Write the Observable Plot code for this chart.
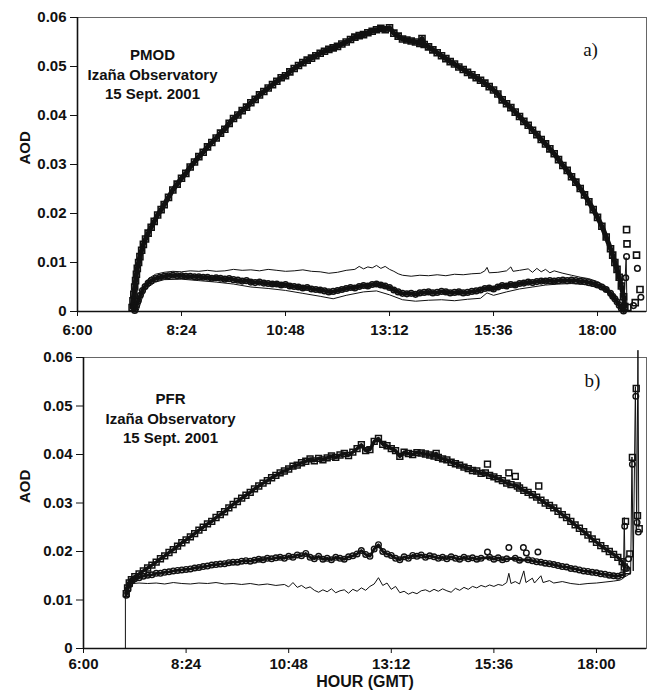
<!DOCTYPE html>
<html>
<head>
<meta charset="utf-8">
<script src="https://cdn.jsdelivr.net/npm/d3@7"></script>
<script src="https://cdn.jsdelivr.net/npm/@observablehq/plot@0.6"></script>
<style>
  body { margin: 0; background: #fff; }
  #chart svg { display: block; }
</style>
</head>
<body>
<div id="chart"></div>
<script>
// ---------- axis ticks ----------
const xTicks = [6, 8.4, 10.8, 13.2, 15.6, 18];
const xTickLabels = ["6:00", "8:24", "10:48", "13:12", "15:36", "18:00"];
const yTicks = [0, 0.01, 0.02, 0.03, 0.04, 0.05, 0.06];
const yTickLabels = ["0", "0.01", "0.02", "0.03", "0.04", "0.05", "0.06"];

// ---------- panel a) PMOD : [hour (GMT), AOD] ----------
const pmodSquares = [
  [7.26,0.0008],[7.28,0.0022],[7.30,0.0035],[7.32,0.0050],[7.34,0.0063],[7.36,0.0076],[7.38,0.0088],
  [7.41,0.0100],[7.44,0.0112],[7.48,0.0125],[7.52,0.0137],[7.57,0.0148],[7.63,0.0160],[7.70,0.0172],
  [7.77,0.0184],[7.85,0.0197],[7.93,0.0208],[8.0,0.0218],[8.1,0.0233],[8.2,0.0248],[8.3,0.0260],
  [8.4,0.0272],[8.5,0.0282],[8.6,0.0295],[8.7,0.0305],[8.8,0.0316],[8.9,0.0325],[9.0,0.0336],
  [9.1,0.0345],[9.2,0.0354],[9.3,0.0364],[9.4,0.0372],[9.5,0.0384],[9.6,0.0394],[9.7,0.0401],
  [9.8,0.0410],[9.9,0.0417],[10.0,0.0426],[10.1,0.0433],[10.2,0.0442],[10.3,0.0449],[10.4,0.0456],
  [10.5,0.0463],[10.6,0.0470],[10.7,0.0477],[10.8,0.0481],[10.9,0.0489],[11.0,0.0496],[11.1,0.0502],
  [11.2,0.0508],[11.3,0.0513],[11.4,0.0517],[11.5,0.0522],[11.6,0.0527],[11.7,0.0531],[11.8,0.0535],
  [11.9,0.0538],[12.0,0.0541],[12.1,0.0546],[12.2,0.0550],[12.3,0.0555],[12.4,0.0560],[12.5,0.0563],
  [12.6,0.0565],[12.7,0.0569],[12.8,0.0572],[12.9,0.0575],[13.0,0.0578],[13.1,0.0575],[13.2,0.0579],
  [13.3,0.0568],[13.4,0.0562],[13.5,0.0556],[13.6,0.0554],[13.7,0.0552],[13.8,0.0550],[13.9,0.0547],
  [13.95,0.0557],[14.0,0.0545],[14.1,0.0540],[14.2,0.0534],[14.3,0.0528],[14.4,0.0522],[14.5,0.0516],
  [14.6,0.0510],[14.7,0.0505],[14.8,0.0499],[14.9,0.0494],[15.0,0.0488],[15.1,0.0483],[15.2,0.0477],
  [15.3,0.0472],[15.4,0.0466],[15.5,0.0459],[15.6,0.0452],[15.7,0.0444],[15.8,0.0432],[15.9,0.0424],
  [16.0,0.0416],[16.1,0.0407],[16.2,0.0398],[16.3,0.0388],[16.4,0.0380],[16.5,0.0370],[16.6,0.0361],
  [16.7,0.0351],[16.8,0.0342],[16.9,0.0332],[17.0,0.0322],[17.1,0.0310],[17.2,0.0298],[17.3,0.0288],
  [17.4,0.0275],[17.5,0.0264],[17.6,0.0251],[17.7,0.0238],[17.8,0.0224],[17.9,0.0208],[18.0,0.0192],
  [18.1,0.0174],[18.2,0.0152],[18.3,0.0128],[18.35,0.0115],[18.4,0.0100],[18.45,0.0086],[18.5,0.0070],
  [18.55,0.0052],[18.6,0.0030],[18.63,0.0010]
];
const pmodSquaresLate = [
  [18.67,0.0167],[18.68,0.0138],[18.90,0.0115],[18.98,0.0045],[18.87,0.0018],[18.70,0.0008]
];
const pmodCircles = [
  [7.32,0.0002],[7.36,0.0012],[7.40,0.0022],[7.45,0.0033],[7.50,0.0043],[7.56,0.0051],[7.63,0.0058],
  [7.70,0.0063],[7.8,0.0067],[7.9,0.0070],[8.0,0.0072],[8.1,0.0073],[8.2,0.0074],[8.3,0.0073],
  [8.4,0.0073],[8.5,0.0072],[8.6,0.0072],[8.7,0.0071],[8.8,0.0071],[8.9,0.0070],[9.0,0.0070],
  [9.1,0.0068],[9.2,0.0069],[9.3,0.0068],[9.4,0.0066],[9.5,0.0067],[9.6,0.0065],[9.7,0.0064],
  [9.8,0.0062],[9.9,0.0063],[10.0,0.0060],[10.1,0.0059],[10.2,0.0060],[10.3,0.0058],[10.4,0.0057],
  [10.5,0.0056],[10.6,0.0056],[10.7,0.0054],[10.8,0.0055],[10.9,0.0052],[11.0,0.0051],[11.1,0.0050],
  [11.2,0.0048],[11.3,0.0049],[11.4,0.0046],[11.5,0.0045],[11.6,0.0044],[11.7,0.0042],[11.8,0.0040],
  [11.9,0.0041],[12.0,0.0043],[12.1,0.0045],[12.2,0.0047],[12.3,0.0049],[12.4,0.0048],[12.5,0.0051],
  [12.6,0.0053],[12.7,0.0052],[12.8,0.0055],[12.9,0.0056],[13.0,0.0054],[13.1,0.0052],[13.2,0.0049],
  [13.3,0.0044],[13.4,0.0040],[13.5,0.0037],[13.6,0.0036],[13.7,0.0037],[13.8,0.0035],[13.9,0.0038],
  [14.0,0.0039],[14.1,0.0040],[14.2,0.0038],[14.3,0.0039],[14.4,0.0041],[14.5,0.0040],[14.6,0.0038],
  [14.7,0.0039],[14.8,0.0040],[14.9,0.0038],[15.0,0.0039],[15.1,0.0041],[15.2,0.0042],[15.3,0.0044],
  [15.4,0.0047],[15.5,0.0048],[15.6,0.0046],[15.7,0.0050],[15.8,0.0053],[15.9,0.0052],[16.0,0.0055],
  [16.1,0.0054],[16.2,0.0057],[16.3,0.0058],[16.4,0.0060],[16.5,0.0059],[16.6,0.0061],[16.7,0.0062],
  [16.8,0.0062],[16.9,0.0063],[17.0,0.0062],[17.1,0.0063],[17.2,0.0064],[17.3,0.0063],[17.4,0.0064],
  [17.5,0.0063],[17.6,0.0062],[17.7,0.0061],[17.8,0.0059],[17.9,0.0057],[18.0,0.0054],[18.1,0.0050],
  [18.2,0.0045],[18.3,0.0037],[18.35,0.0031],[18.4,0.0026],[18.45,0.0020],[18.5,0.0013],[18.55,0.0006],
  [18.6,0.0001]
];
const pmodCirclesLate = [
  [18.67,0.0112],[18.92,0.0088],[19.0,0.0029],[18.83,0.0012],[18.65,0.0069]
];
const pmodLineUpper = [
  [7.36,0.0005],[7.45,0.0035],[7.55,0.0055],[7.65,0.0068],[7.8,0.0076],[8.0,0.0080],[8.2,0.0082],
  [8.4,0.0081],[8.6,0.0083],[8.8,0.0082],[9.0,0.0084],[9.2,0.0082],[9.4,0.0083],[9.6,0.0086],
  [9.8,0.0084],[10.0,0.0085],[10.2,0.0083],[10.4,0.0086],[10.6,0.0084],[10.8,0.0082],[11.0,0.0083],
  [11.2,0.0085],[11.4,0.0082],[11.6,0.0081],[11.8,0.0078],[12.0,0.0080],[12.2,0.0084],[12.4,0.0086],
  [12.5,0.0092],[12.6,0.0087],[12.7,0.0091],[12.8,0.0089],[12.9,0.0094],[13.0,0.0088],[13.1,0.0092],
  [13.2,0.0086],[13.3,0.0082],[13.4,0.0077],[13.5,0.0074],[13.7,0.0072],[13.9,0.0074],[14.1,0.0073],
  [14.3,0.0075],[14.5,0.0073],[14.7,0.0076],[14.9,0.0075],[15.1,0.0077],[15.3,0.0078],[15.4,0.0083],
  [15.45,0.0090],[15.5,0.0079],[15.7,0.0080],[15.9,0.0083],[16.0,0.0091],[16.05,0.0082],[16.2,0.0084],
  [16.4,0.0087],[16.5,0.0080],[16.6,0.0088],[16.7,0.0081],[16.8,0.0086],[16.9,0.0079],[17.0,0.0083],
  [17.2,0.0078],[17.4,0.0074],[17.6,0.0070],[17.8,0.0067],[18.0,0.0061],[18.2,0.0051],[18.4,0.0032],
  [18.55,0.0010]
];
const pmodLineLower = [
  [7.40,0.0002],[7.5,0.0030],[7.6,0.0048],[7.8,0.0060],[8.0,0.0065],[8.4,0.0066],[8.8,0.0063],
  [9.2,0.0060],[9.6,0.0056],[10.0,0.0050],[10.4,0.0047],[10.8,0.0043],[11.2,0.0037],[11.6,0.0031],
  [11.9,0.0026],[12.2,0.0033],[12.6,0.0040],[12.9,0.0042],[13.2,0.0034],[13.5,0.0024],[13.8,0.0021],
  [14.1,0.0023],[14.4,0.0024],[14.7,0.0022],[15.0,0.0025],[15.3,0.0027],[15.45,0.0038],[15.6,0.0033],
  [15.9,0.0040],[16.2,0.0046],[16.5,0.0050],[16.8,0.0054],[17.1,0.0056],[17.4,0.0057],[17.7,0.0055],
  [18.0,0.0049],[18.2,0.0040],[18.4,0.0022],[18.55,0.0004],[18.6,0.0002],[18.66,0.0110],[18.68,0.0005]
];

// ---------- panel b) PFR : [hour (GMT), AOD] ----------
const pfrSquares = [
  [7.0,0.0113],[7.03,0.0125],[7.07,0.0135],[7.12,0.0142],[7.2,0.0148],[7.3,0.0154],[7.4,0.0160],
  [7.5,0.0166],[7.6,0.0172],[7.7,0.0178],[7.8,0.0185],[7.9,0.0191],[8.0,0.0198],[8.1,0.0204],
  [8.2,0.0211],[8.3,0.0218],[8.4,0.0224],[8.5,0.0230],[8.6,0.0237],[8.7,0.0244],[8.8,0.0250],
  [8.9,0.0257],[9.0,0.0262],[9.1,0.0270],[9.2,0.0276],[9.3,0.0282],[9.4,0.0290],[9.5,0.0297],
  [9.6,0.0303],[9.7,0.0310],[9.8,0.0316],[9.9,0.0322],[10.0,0.0329],[10.1,0.0335],[10.2,0.0341],
  [10.3,0.0346],[10.4,0.0352],[10.5,0.0357],[10.6,0.0362],[10.7,0.0366],[10.8,0.0370],[10.9,0.0376],
  [11.0,0.0378],[11.1,0.0383],[11.2,0.0386],[11.3,0.0391],[11.4,0.0387],[11.5,0.0392],[11.6,0.0389],
  [11.7,0.0393],[11.8,0.0397],[11.9,0.0394],[12.0,0.0399],[12.1,0.0402],[12.2,0.0398],[12.3,0.0405],
  [12.4,0.0412],[12.5,0.0420],[12.6,0.0408],[12.7,0.0410],[12.8,0.0427],[12.9,0.0433],[13.0,0.0421],
  [13.1,0.0418],[13.2,0.0412],[13.3,0.0408],[13.4,0.0396],[13.5,0.0405],[13.6,0.0402],[13.7,0.0400],
  [13.8,0.0404],[13.9,0.0403],[14.0,0.0401],[14.1,0.0399],[14.2,0.0397],[14.25,0.0402],[14.3,0.0394],
  [14.4,0.0391],[14.5,0.0389],[14.6,0.0384],[14.7,0.0381],[14.8,0.0378],[14.9,0.0374],[15.0,0.0371],
  [15.1,0.0367],[15.2,0.0366],[15.3,0.0361],[15.4,0.0362],[15.5,0.0357],[15.6,0.0354],
  [15.7,0.0350],[15.8,0.0346],[15.9,0.0341],[16.0,0.0338],[16.15,0.0335],
  [16.2,0.0331],[16.3,0.0326],[16.4,0.0322],[16.5,0.0317],[16.6,0.0312],[16.7,0.0306],
  [16.8,0.0300],[16.9,0.0295],[17.0,0.0290],[17.1,0.0283],[17.2,0.0276],[17.3,0.0270],[17.4,0.0262],
  [17.5,0.0255],[17.6,0.0248],[17.7,0.0241],[17.8,0.0234],[17.9,0.0226],[18.0,0.0219],[18.1,0.0212],
  [18.2,0.0206],[18.3,0.0200],[18.4,0.0194],[18.5,0.0188],[18.6,0.0179],[18.65,0.0168]
];
const pfrSquaresScatter = [
  [15.45,0.0380],[15.95,0.0362],[16.1,0.0355],[16.65,0.0335],
  [18.68,0.0262],[18.72,0.0160],[18.78,0.0195],[18.84,0.0394],[18.93,0.0536],[18.96,0.0274],[19.0,0.0247]
];
const pfrCircles = [
  [7.0,0.0110],[7.04,0.0122],[7.08,0.0132],[7.14,0.0140],[7.2,0.0144],[7.3,0.0146],[7.4,0.0149],
  [7.5,0.0151],[7.6,0.0152],[7.7,0.0155],[7.8,0.0155],[7.9,0.0157],[8.0,0.0158],[8.1,0.0160],
  [8.2,0.0161],[8.3,0.0162],[8.4,0.0163],[8.5,0.0164],[8.6,0.0166],[8.7,0.0167],[8.8,0.0169],
  [8.9,0.0170],[9.0,0.0172],[9.1,0.0173],[9.2,0.0174],[9.3,0.0175],[9.4,0.0177],[9.5,0.0178],
  [9.6,0.0178],[9.7,0.0180],[9.8,0.0181],[9.9,0.0180],[10.0,0.0182],[10.1,0.0184],[10.2,0.0183],
  [10.3,0.0186],[10.4,0.0185],[10.5,0.0187],[10.6,0.0188],[10.7,0.0186],[10.8,0.0190],[10.9,0.0188],
  [11.0,0.0193],[11.1,0.0191],[11.2,0.0196],[11.3,0.0188],[11.4,0.0185],[11.5,0.0190],[11.6,0.0184],
  [11.7,0.0186],[11.8,0.0183],[11.9,0.0188],[12.0,0.0186],[12.1,0.0184],[12.2,0.0189],[12.3,0.0191],
  [12.4,0.0195],[12.5,0.0202],[12.6,0.0194],[12.7,0.0190],[12.8,0.0205],[12.9,0.0214],[13.0,0.0200],
  [13.1,0.0195],[13.2,0.0192],[13.3,0.0186],[13.4,0.0183],[13.5,0.0189],[13.6,0.0186],[13.7,0.0192],
  [13.8,0.0190],[13.9,0.0193],[14.0,0.0188],[14.1,0.0191],[14.2,0.0189],[14.3,0.0186],[14.4,0.0188],
  [14.5,0.0185],[14.6,0.0189],[14.7,0.0186],[14.8,0.0184],[14.9,0.0188],[15.0,0.0185],[15.1,0.0187],
  [15.2,0.0184],[15.3,0.0186],[15.5,0.0188],[15.6,0.0184],[15.7,0.0187],[15.8,0.0183],
  [15.9,0.0185],[16.1,0.0186],[16.2,0.0182],[16.4,0.0183],
  [16.5,0.0181],[16.6,0.0179],[16.7,0.0178],[16.8,0.0176],[16.9,0.0175],[17.0,0.0173],
  [17.1,0.0171],[17.2,0.0169],[17.3,0.0168],[17.4,0.0165],[17.5,0.0164],[17.6,0.0162],[17.7,0.0160],
  [17.8,0.0159],[17.9,0.0157],[18.0,0.0156],[18.1,0.0154],[18.2,0.0153],[18.3,0.0151],[18.4,0.0150],
  [18.5,0.0149],[18.6,0.0152]
];
const pfrCirclesScatter = [
  [15.45,0.0199],[15.95,0.0208],[16.29,0.0208],[16.36,0.0197],[16.63,0.0199],
  [18.66,0.0252],[18.7,0.0165],[18.75,0.0185],[18.84,0.0380],[18.92,0.0520],[18.95,0.0260],[18.98,0.0240]
];
const pfrLine = [
  [6.98,0.0],[6.98,0.0112],[7.05,0.0130],[7.15,0.0134],[7.3,0.0135],[7.5,0.0134],[7.7,0.0135],
  [7.9,0.0133],[8.1,0.0136],[8.3,0.0134],[8.5,0.0133],[8.7,0.0135],[8.9,0.0134],[9.1,0.0136],
  [9.3,0.0133],[9.5,0.0134],[9.7,0.0132],[9.9,0.0134],[10.1,0.0131],[10.3,0.0133],[10.5,0.0130],
  [10.7,0.0132],[10.8,0.0127],[10.9,0.0136],[11.0,0.0126],[11.1,0.0130],[11.2,0.0124],[11.3,0.0127],
  [11.4,0.0120],[11.5,0.0116],[11.6,0.0121],[11.7,0.0117],[11.8,0.0123],[11.9,0.0115],[12.0,0.0119],
  [12.1,0.0121],[12.2,0.0114],[12.3,0.0122],[12.4,0.0118],[12.5,0.0125],[12.6,0.0120],[12.7,0.0128],
  [12.8,0.0133],[12.9,0.0146],[13.0,0.0130],[13.1,0.0135],[13.2,0.0122],[13.3,0.0128],[13.4,0.0115],
  [13.5,0.0118],[13.6,0.0112],[13.7,0.0116],[13.8,0.0113],[13.9,0.0119],[14.0,0.0121],[14.1,0.0117],
  [14.2,0.0122],[14.3,0.0118],[14.4,0.0123],[14.5,0.0119],[14.6,0.0116],[14.7,0.0124],[14.8,0.0120],
  [14.9,0.0126],[15.0,0.0122],[15.1,0.0128],[15.2,0.0125],[15.3,0.0130],[15.4,0.0127],[15.5,0.0131],
  [15.6,0.0128],[15.7,0.0132],[15.8,0.0130],[15.9,0.0136],[15.95,0.0155],[16.0,0.0134],[16.1,0.0138],
  [16.2,0.0133],[16.3,0.0160],[16.35,0.0136],[16.5,0.0145],[16.55,0.0135],[16.7,0.0150],[16.75,0.0136],
  [16.9,0.0140],[17.0,0.0135],[17.2,0.0138],[17.4,0.0134],[17.6,0.0132],[17.8,0.0134],[18.0,0.0135],
  [18.2,0.0137],[18.4,0.0139],[18.55,0.0141],[18.63,0.0145],[18.65,0.0270],[18.67,0.0148],[18.8,0.0155],
  [18.83,0.0395],[18.86,0.0160],[18.91,0.0540],[18.94,0.0250],[18.97,0.0615],[18.99,0.0250]
];

// ---------- drawing ----------
const FONT = "'Liberation Sans', Arial, Helvetica, sans-serif";
const toObj = arr => arr.map(([t, v]) => ({t, v}));

function panel(o) {
  const marks = [
    Plot.frame({stroke: "#666", strokeWidth: 1}),
    Plot.ruleY([0], {stroke: "#111", strokeWidth: 1.6}),
    Plot.ruleX([o.xDomain[0]], {stroke: "#111", strokeWidth: 1.6}),
    Plot.axisY({ticks: yTicks, tickFormat: (d) => yTickLabels[yTicks.indexOf(d)], tickSize: 7, tickPadding: 4, label: null, fontSize: 15, fontWeight: "bold"}),
    Plot.axisX({ticks: xTicks, tickFormat: (d) => xTickLabels[xTicks.indexOf(d)], tickSize: 5, tickPadding: o.tickPadX, label: null, fontSize: 15, fontWeight: "bold"}),
    ...o.lines.map(l => Plot.line(toObj(l), {x: "t", y: "v", stroke: "#111", strokeWidth: 1})),
    // dense measurement bands (the same series, drawn as a heavy trace under the symbols)
    ...o.bands.map(([b, w]) => Plot.line(toObj(b), {x: "t", y: "v", stroke: "#111", strokeWidth: w, strokeLinejoin: "round"})),
    ...o.circles.map(c => Plot.dot(toObj(c), {x: "t", y: "v", symbol: "circle", r: o.cr, stroke: "#111", strokeWidth: o.csw, fill: "none"})),
    ...o.squares.map(s => Plot.dot(toObj(s), {x: "t", y: "v", symbol: "square", r: o.sr, stroke: "#111", strokeWidth: o.ssw, fill: "none"})),
    Plot.text([o.title], {frameAnchor: "top-left", dx: o.titleDx, dy: o.titleDy, textAnchor: "middle", lineAnchor: "middle", lineHeight: 1.3, fontSize: 15, fontWeight: "bold", fill: "#111"}),
    Plot.text([o.tag], {frameAnchor: "top-right", dx: o.tagDx, dy: o.tagDy, textAnchor: "middle", fontSize: 19, fontFamily: "'Liberation Serif', 'Times New Roman', serif", fill: "#111"}),
    Plot.text(["AOD"], {frameAnchor: "left", dx: -52 - (o.marginLeft - 77), rotate: -90, fontSize: 15, fontWeight: "bold", fill: "#111"})
  ];
  if (o.xLabel) marks.push(Plot.text([o.xLabel], {frameAnchor: "bottom", dy: 38, fontSize: 16, fontWeight: "bold", fill: "#111"}));
  return Plot.plot({
    width: 651,
    height: o.height,
    marginTop: 17,
    marginRight: 5,
    marginLeft: o.marginLeft,
    marginBottom: o.marginBottom,
    x: {domain: o.xDomain},
    y: {domain: [0, 0.06]},
    style: {fontFamily: FONT, background: "#fff", color: "#111", overflow: "visible"},
    marks
  });
}

const chart = document.getElementById("chart");
chart.appendChild(panel({
  squares: [pmodSquares, pmodSquaresLate], circles: [pmodCircles, pmodCirclesLate], lines: [pmodLineUpper, pmodLineLower],
  bands: [[pmodSquares, 5], [pmodCircles, 4]],
  sr: 3.4, ssw: 1.6, cr: 2.8, csw: 1.5, tickPadX: 8,
  title: "PMOD\nIzaña Observatory\n15 Sept. 2001", tag: "a)",
  xDomain: [6, 19.13], height: 340, marginLeft: 77, marginBottom: 29,
  titleDx: 75, titleDy: 56, tagDx: -56, tagDy: 25
}));
chart.appendChild(panel({
  squares: [pfrSquares, pfrSquaresScatter], circles: [pfrCircles, pfrCirclesScatter], lines: [pfrLine],
  bands: [[pfrSquares, 3.4], [pfrCircles, 2.8]],
  sr: 3.3, ssw: 1.5, cr: 2.8, csw: 1.4, tickPadX: 5,
  title: "PFR\nIzaña Observatory\n15 Sept. 2001", tag: "b)",
  xDomain: [6, 19.17], height: 354, marginLeft: 83, marginBottom: 46, xLabel: "HOUR (GMT)",
  titleDx: 87, titleDy: 60, tagDx: -54, tagDy: 16
}));
</script>
</body>
</html>
